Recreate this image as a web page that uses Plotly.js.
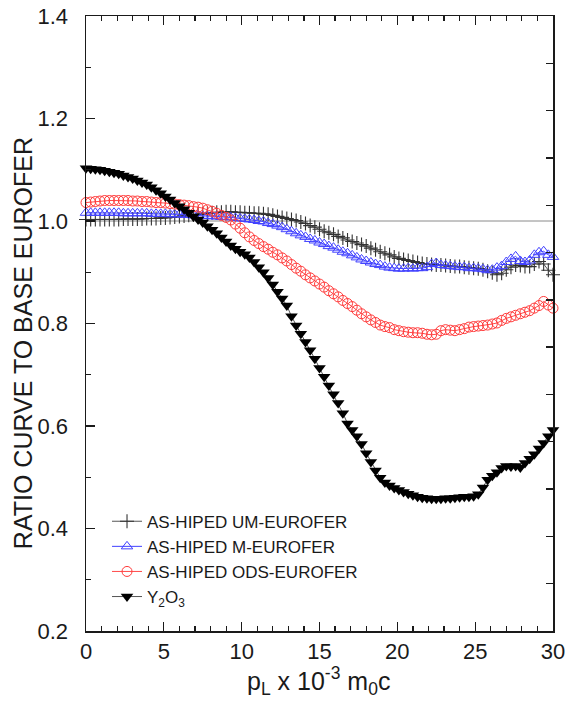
<!DOCTYPE html>
<html>
<head>
<meta charset="utf-8">
<script src="https://cdn.plot.ly/plotly-3.0.1.min.js"></script>
<style>html,body{margin:0;padding:0;background:#fff;}#chart{width:565px;height:701px;}</style>
</head>
<body>
<div id="chart"></div>
<script>
// momentum p_L (x 10^-3 m0c)
const pL = [0,0.3,0.6,0.9,1.2,1.5,1.8,2.1,2.4,2.7,3,3.3,3.6,3.9,4.2,4.5,4.8,5.1,5.4,5.7,6,6.3,6.6,6.9,7.2,7.5,7.8,8.1,8.4,8.7,9,9.3,9.6,9.9,10.2,10.5,10.8,11.1,11.4,11.7,12,12.3,12.6,12.9,13.2,13.5,13.8,14.1,14.4,14.7,15,15.3,15.6,15.9,16.2,16.5,16.8,17.1,17.4,17.7,18,18.3,18.6,18.9,19.2,19.5,19.8,20.1,20.4,20.7,21,21.3,21.6,21.9,22.2,22.5,22.8,23.1,23.4,23.7,24,24.3,24.6,24.9,25.2,25.5,25.8,26.1,26.4,26.7,27,27.3,27.6,27.9,28.2,28.5,28.8,29.1,29.4,29.7,30];

const umEurofer = [1.003,1.003,1.003,1.003,1.003,1.003,1.003,1.003,1.004,1.004,
1.004,1.004,1.004,1.005,1.005,1.005,1.006,1.006,1.007,1.008,
1.009,1.010,1.011,1.012,1.013,1.014,1.015,1.016,1.017,1.017,
1.018,1.018,1.017,1.017,1.016,1.016,1.015,1.015,1.014,1.013,
1.011,1.009,1.007,1.005,1.003,1.001,0.998,0.995,0.991,0.988,
0.984,0.980,0.977,0.974,0.970,0.967,0.963,0.960,0.957,0.954,
0.951,0.947,0.944,0.940,0.937,0.934,0.930,0.927,0.925,0.923,
0.921,0.919,0.917,0.916,0.915,0.914,0.914,0.913,0.912,0.911,
0.911,0.910,0.909,0.908,0.907,0.905,0.902,0.899,0.895,0.898,
0.905,0.910,0.914,0.913,0.911,0.911,0.916,0.921,0.916,0.904,0.895];

const mEurofer = [1.016,1.016,1.016,1.016,1.016,1.016,1.016,1.016,1.015,1.015,
1.015,1.015,1.015,1.015,1.014,1.014,1.014,1.014,1.013,1.013,
1.013,1.012,1.012,1.011,1.011,1.010,1.010,1.009,1.009,1.008,
1.008,1.007,1.006,1.005,1.004,1.003,1.002,1.000,0.999,0.996,
0.994,0.991,0.988,0.984,0.980,0.976,0.972,0.969,0.965,0.962,
0.958,0.955,0.951,0.948,0.944,0.940,0.937,0.933,0.929,0.925,
0.922,0.919,0.916,0.914,0.911,0.909,0.908,0.907,0.907,0.908,
0.907,0.908,0.908,0.910,0.916,0.918,0.914,0.913,0.912,0.911,
0.910,0.910,0.908,0.908,0.907,0.906,0.904,0.905,0.909,0.912,
0.920,0.926,0.931,0.922,0.920,0.923,0.934,0.939,0.941,0.934,0.930];

const odsEurofer = [1.036,1.037,1.038,1.039,1.040,1.040,1.040,1.040,1.040,1.040,
1.039,1.039,1.038,1.038,1.037,1.036,1.036,1.035,1.034,1.033,
1.032,1.031,1.030,1.028,1.027,1.025,1.022,1.019,1.015,1.011,
1.007,1.002,0.994,0.986,0.977,0.969,0.962,0.956,0.950,0.945,
0.939,0.934,0.928,0.922,0.915,0.908,0.902,0.895,0.889,0.883,
0.877,0.871,0.864,0.858,0.852,0.845,0.839,0.833,0.826,0.819,
0.813,0.807,0.802,0.797,0.794,0.792,0.788,0.786,0.784,0.783,
0.782,0.782,0.781,0.779,0.778,0.779,0.786,0.788,0.787,0.786,
0.788,0.790,0.793,0.794,0.795,0.796,0.797,0.799,0.801,0.806,
0.810,0.813,0.816,0.819,0.822,0.825,0.830,0.835,0.843,0.836,0.830];

const y2o3 = [1.103,1.102,1.101,1.100,1.098,1.096,1.094,1.092,1.089,1.086,
1.083,1.079,1.075,1.071,1.066,1.060,1.054,1.048,1.042,1.035,
1.029,1.023,1.016,1.009,1.003,0.997,0.990,0.983,0.976,0.968,
0.960,0.952,0.946,0.940,0.935,0.929,0.920,0.910,0.900,0.889,
0.876,0.862,0.849,0.835,0.814,0.796,0.780,0.764,0.748,0.731,
0.713,0.696,0.679,0.662,0.645,0.625,0.605,0.592,0.580,0.565,
0.547,0.530,0.513,0.499,0.490,0.484,0.479,0.475,0.471,0.468,
0.465,0.462,0.460,0.459,0.458,0.458,0.458,0.459,0.459,0.460,
0.461,0.462,0.462,0.463,0.467,0.480,0.495,0.503,0.510,0.518,
0.522,0.521,0.522,0.519,0.528,0.536,0.545,0.556,0.567,0.580,0.592];

const seriesNames = ['AS-HIPED UM-EUROFER','AS-HIPED M-EUROFER','AS-HIPED ODS-EUROFER','Y<sub>2</sub>O<sub>3</sub>'];
const refLevel = [1.0, 1.0];
const refX = [0, 30];

const FONT = 'Liberation Sans, Arial, sans-serif';
const INK = '#1a1a1a';

const traces = [
  {x: refX, y: refLevel, mode: 'lines', line: {color: '#8a8a8a', width: 1}, showlegend: false, hoverinfo: 'skip'},
  {x: pL, y: umEurofer, name: seriesNames[0], mode: 'lines+markers', cliponaxis: false,
   line: {color: '#555555', width: 1},
   marker: {symbol: 'cross-thin-open', size: 10, color: '#333333', line: {color: '#333333', width: 1.1}}},
  {x: pL, y: mEurofer, name: seriesNames[1], mode: 'lines+markers', cliponaxis: false,
   line: {color: '#4040ff', width: 1},
   marker: {symbol: 'triangle-up-open', size: 10, color: '#4040ff', line: {color: '#4040ff', width: 1}}},
  {x: pL, y: odsEurofer, name: seriesNames[2], mode: 'lines+markers', cliponaxis: false,
   line: {color: '#ff4a4a', width: 1},
   marker: {symbol: 'circle-open', size: 10, color: '#ff3a3a', line: {color: '#ff3a3a', width: 1}}},
  {x: pL, y: y2o3, name: seriesNames[3], mode: 'lines+markers', cliponaxis: false,
   line: {color: '#555555', width: 1},
   marker: {symbol: 'triangle-down', size: 11, color: '#000000', line: {width: 0}}}
];

const layout = {
  width: 565, height: 701,
  margin: {l: 86, r: 12, t: 16, b: 70},
  paper_bgcolor: '#ffffff', plot_bgcolor: '#ffffff',
  font: {family: FONT, color: INK, size: 22},
  showlegend: true,
  legend: {x: 0.045, y: 0.207, xanchor: 'left', yanchor: 'top', bgcolor: 'rgba(0,0,0,0)',
           font: {family: FONT, size: 17, color: INK}, tracegroupgap: 0},
  xaxis: {range: [0, 30], dtick: 5, tick0: 0, ticks: 'inside', ticklen: 9, tickwidth: 1.3, tickcolor: INK,
          showline: true, linecolor: INK, linewidth: 1.5, mirror: 'ticks', showgrid: false, zeroline: false,
          ticklabelstandoff: 0, ticklabeloverflow: 'allow', tickfont: {size: 22, family: FONT, color: INK},
          minor: {dtick: 1, ticks: 'inside', ticklen: 5, tickwidth: 1.2, tickcolor: INK, showgrid: false}},
  yaxis: {range: [0.2, 1.4], dtick: 0.2, tick0: 0.2, tickformat: '.1f', ticks: 'inside', ticklen: 9, tickwidth: 1.3, tickcolor: INK,
          showline: true, linecolor: INK, linewidth: 1.5, mirror: false, showgrid: false, zeroline: false,
          ticklabelstandoff: 12, ticklabeloverflow: 'allow', tickfont: {size: 22, family: FONT, color: INK},
          minor: {dtick: 0.1, ticks: 'inside', ticklen: 5, tickwidth: 1.2, tickcolor: INK, showgrid: false}},
  yaxis2: {overlaying: 'y', side: 'right', range: [0, 1.3], dtick: 0.1, tick0: 0, ticks: 'inside', ticklen: 7, tickwidth: 1.3,
           tickcolor: INK, showticklabels: false, showline: true, linecolor: INK, linewidth: 1.5, showgrid: false, zeroline: false,
           fixedrange: true},
  annotations: [
    {text: 'RATIO CURVE TO BASE EUROFER', textangle: -90, xref: 'paper', yref: 'paper',
     x: -0.135, y: 0.468, xanchor: 'center', yanchor: 'middle', showarrow: false,
     font: {family: FONT, size: 25, color: INK}},
    {text: 'p<sub>L</sub> x 10<sup>-3</sup> m<sub>0</sub>c', xref: 'paper', yref: 'paper',
     x: 0.497, y: -0.082, xanchor: 'center', yanchor: 'middle', showarrow: false,
     font: {family: FONT, size: 25, color: INK}}
  ]
};

traces.push({x: [], y: [], yaxis: 'y2', showlegend: false, hoverinfo: 'skip', mode: 'lines'});

Plotly.newPlot('chart', traces, layout, {displayModeBar: false, staticPlot: true});
</script>
</body>
</html>
